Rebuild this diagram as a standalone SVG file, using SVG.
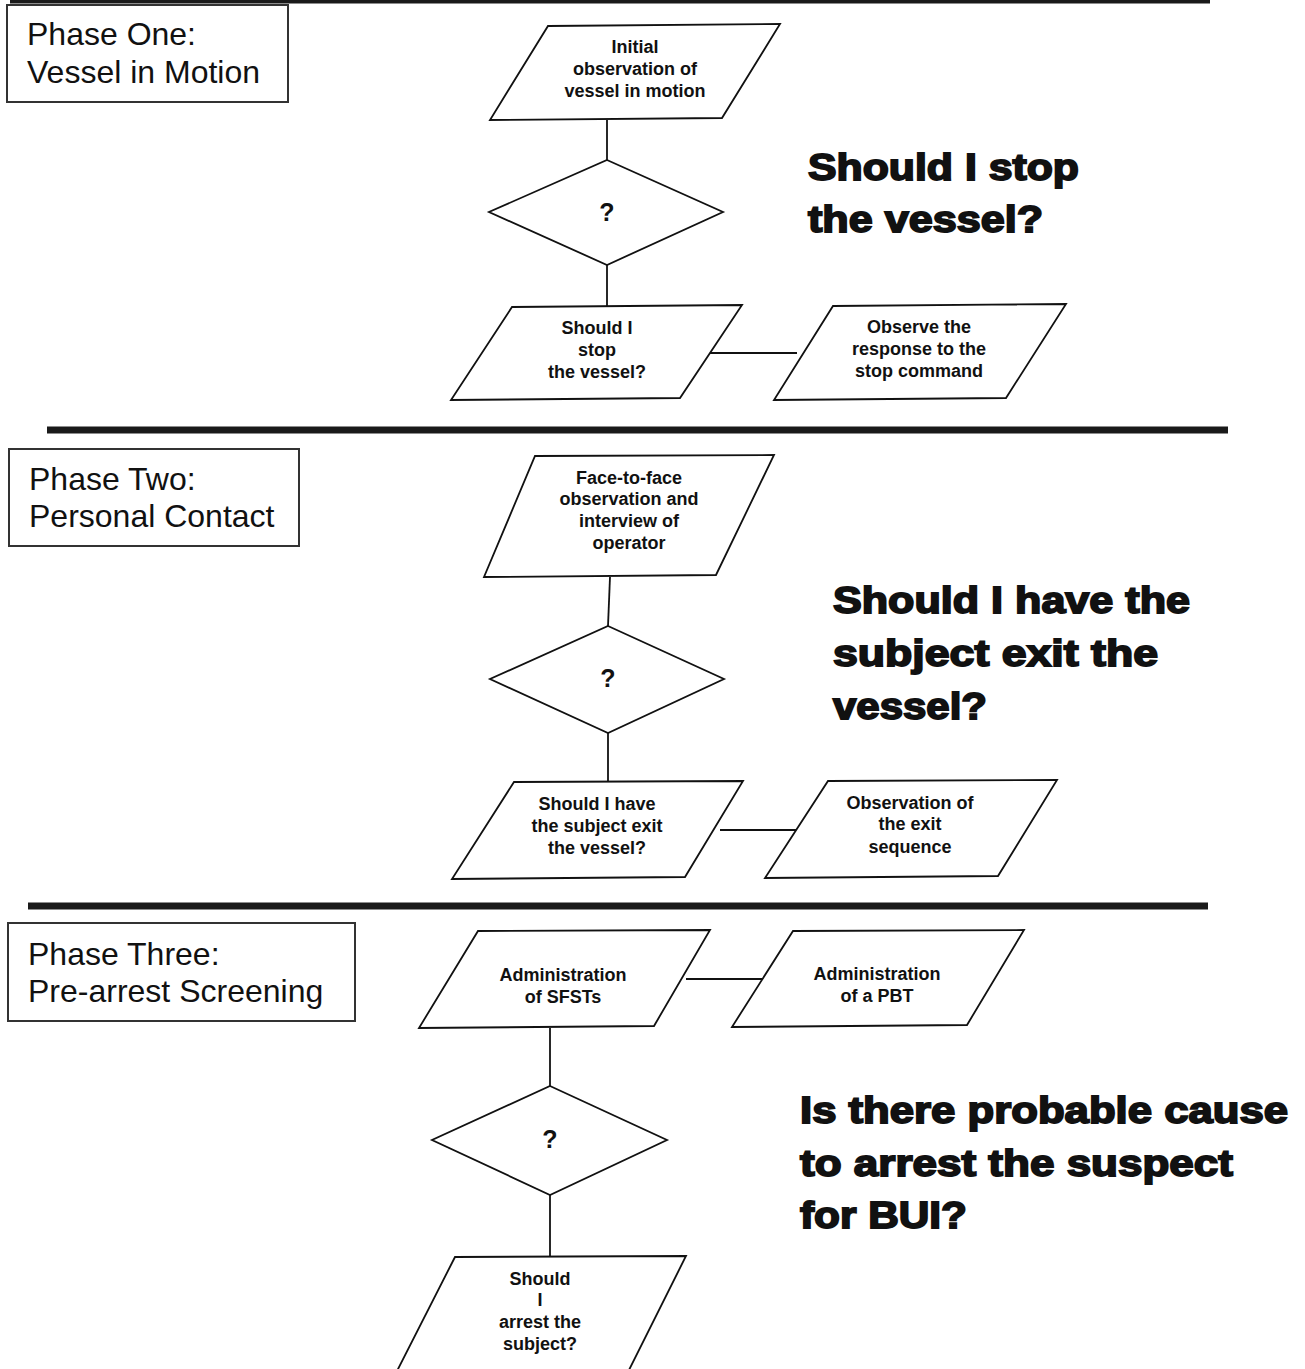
<svg xmlns="http://www.w3.org/2000/svg" width="1305" height="1369" viewBox="0 0 1305 1369">
<style>
.bg{fill:#fff}
.sep{stroke:#1a1a1a;stroke-width:7;fill:none}
.ph{fill:#fff;stroke:#333;stroke-width:2}
.pht{font-family:"Liberation Sans",Arial,sans-serif;font-size:32px;fill:#111}
.nd{fill:#fff;stroke:#111;stroke-width:1.8}
.nt{font-family:"Liberation Sans",Arial,sans-serif;font-size:18px;font-weight:bold;fill:#111;text-anchor:middle}
.q{font-family:"Liberation Sans",Arial,sans-serif;font-size:25px;font-weight:bold;fill:#111;text-anchor:middle}
.big{font-family:"Liberation Sans",Arial,sans-serif;font-size:37px;font-weight:bold;fill:#111;stroke:#111;stroke-width:1.8}
.cn{stroke:#111;stroke-width:1.8;fill:none}
</style>
<rect class="bg" x="0" y="0" width="1305" height="1369"/>
<g id="separators">
<line class="sep" x1="10" y1="0" x2="1210" y2="0"/>
<line class="sep" x1="47" y1="430" x2="1228" y2="430"/>
<line class="sep" x1="28" y1="906" x2="1208" y2="906"/>
</g>
<g id="phase1">
<rect class="ph" x="7" y="5" width="281" height="97"/>
<text class="pht" x="27" y="45">Phase One:</text>
<text class="pht" x="27" y="83">Vessel in Motion</text>
</g>
<g id="phase2">
<rect class="ph" x="9" y="449" width="290" height="97"/>
<text class="pht" x="29" y="490">Phase Two:</text>
<text class="pht" x="29" y="527">Personal Contact</text>
</g>
<g id="phase3">
<rect class="ph" x="8" y="923" width="347" height="98"/>
<text class="pht" x="28" y="965">Phase Three:</text>
<text class="pht" x="28" y="1002">Pre-arrest Screening</text>
</g>
<g id="connectors">
<line class="cn" x1="607" y1="120" x2="607" y2="160"/>
<line class="cn" x1="607" y1="265" x2="607" y2="306"/>
<line class="cn" x1="710" y1="353" x2="797" y2="353"/>
<line class="cn" x1="610" y1="577" x2="608" y2="626"/>
<line class="cn" x1="608" y1="733" x2="608" y2="781"/>
<line class="cn" x1="720" y1="830" x2="797" y2="830"/>
<line class="cn" x1="686" y1="979" x2="763" y2="979"/>
<line class="cn" x1="550" y1="1028" x2="550" y2="1086"/>
<line class="cn" x1="550" y1="1195" x2="550" y2="1257"/>
</g>
<g id="n1">
<polygon class="nd" points="548,26 780,24 722,118 490,120"/>
<text class="nt" x="635" y="53">Initial</text>
<text class="nt" x="635" y="75">observation of</text>
<text class="nt" x="635" y="97">vessel in motion</text>
</g>
<g id="d1">
<polygon class="nd" points="607,160 723,212 607,265 489,212"/>
<text class="q" x="607" y="221">?</text>
</g>
<g id="n2">
<polygon class="nd" points="512,307 742,305 680,398 451,400"/>
<text class="nt" x="597" y="334">Should I</text>
<text class="nt" x="597" y="356">stop</text>
<text class="nt" x="597" y="378">the vessel?</text>
</g>
<g id="n3">
<polygon class="nd" points="833,306 1066,304 1006,398 774,400"/>
<text class="nt" x="919" y="333">Observe the</text>
<text class="nt" x="919" y="355">response to the</text>
<text class="nt" x="919" y="377">stop command</text>
</g>
<g id="q1">
<text class="big" x="808" y="180" textLength="271" lengthAdjust="spacingAndGlyphs">Should I stop</text>
<text class="big" x="808" y="232" textLength="235" lengthAdjust="spacingAndGlyphs">the vessel?</text>
</g>
<g id="n4">
<polygon class="nd" points="535,456 774,455 716,575 484,577"/>
<text class="nt" x="629" y="484">Face-to-face</text>
<text class="nt" x="629" y="505">observation and</text>
<text class="nt" x="629" y="527">interview of</text>
<text class="nt" x="629" y="549">operator</text>
</g>
<g id="d2">
<polygon class="nd" points="608,626 724,679 608,733 490,679"/>
<text class="q" x="608" y="687">?</text>
</g>
<g id="n5">
<polygon class="nd" points="514,782 743,781 685,877 452,879"/>
<text class="nt" x="597" y="810">Should I have</text>
<text class="nt" x="597" y="832">the subject exit</text>
<text class="nt" x="597" y="854">the vessel?</text>
</g>
<g id="n6">
<polygon class="nd" points="828,781 1057,780 998,876 765,878"/>
<text class="nt" x="910" y="809">Observation of</text>
<text class="nt" x="910" y="830">the exit</text>
<text class="nt" x="910" y="853">sequence</text>
</g>
<g id="q2">
<text class="big" x="833" y="613" textLength="357" lengthAdjust="spacingAndGlyphs">Should I have the</text>
<text class="big" x="833" y="666" textLength="325" lengthAdjust="spacingAndGlyphs">subject exit the</text>
<text class="big" x="833" y="719" textLength="154" lengthAdjust="spacingAndGlyphs">vessel?</text>
</g>
<g id="n7">
<polygon class="nd" points="478,931 710,930 654,1026 419,1028"/>
<text class="nt" x="563" y="981">Administration</text>
<text class="nt" x="563" y="1003">of SFSTs</text>
</g>
<g id="n8">
<polygon class="nd" points="793,931 1024,930 967,1025 732,1027"/>
<text class="nt" x="877" y="980">Administration</text>
<text class="nt" x="877" y="1002">of a PBT</text>
</g>
<g id="d3">
<polygon class="nd" points="550,1086 667,1140 550,1195 432,1140"/>
<text class="q" x="550" y="1148">?</text>
</g>
<g id="n9">
<polygon class="nd" points="455,1257 686,1256 628,1372 396,1373"/>
<text class="nt" x="540" y="1285">Should</text>
<text class="nt" x="540" y="1306">I</text>
<text class="nt" x="540" y="1328">arrest the</text>
<text class="nt" x="540" y="1350">subject?</text>
</g>
<g id="q3">
<text class="big" x="800" y="1123" textLength="488" lengthAdjust="spacingAndGlyphs">Is there probable cause</text>
<text class="big" x="800" y="1176" textLength="433" lengthAdjust="spacingAndGlyphs">to arrest the suspect</text>
<text class="big" x="800" y="1228" textLength="167" lengthAdjust="spacingAndGlyphs">for BUI?</text>
</g>
</svg>
